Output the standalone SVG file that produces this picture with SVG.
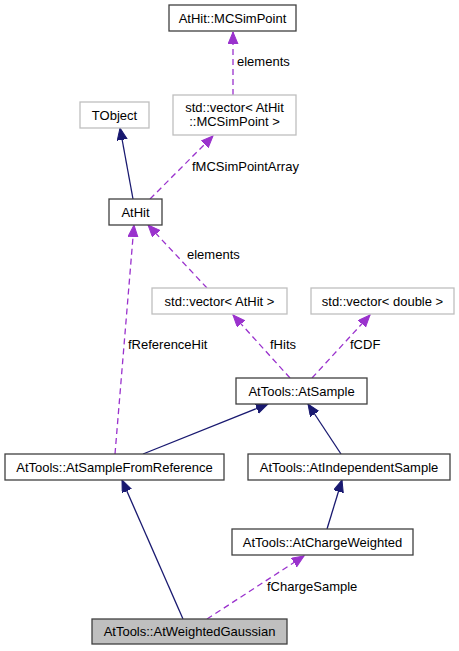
<svg xmlns="http://www.w3.org/2000/svg" width="459" height="651" viewBox="0 0 459 651">
<defs>
<style>
text{font-family:"Liberation Sans",Arial,Helvetica,sans-serif;font-size:13px;fill:#000}
.n{text-anchor:middle}
.box{fill:#fff;stroke:#404040;stroke-width:1.3}
.ext{fill:#fff;stroke:#bfbfbf;stroke-width:1.3}
.cur{fill:#bfbfbf;stroke:#404040;stroke-width:1.3}
.inh{fill:none;stroke:#191970;stroke-width:1.3}
.use{fill:none;stroke:#9a32cd;stroke-width:1.3;stroke-dasharray:6,4}
</style>
<marker id="ah" markerUnits="userSpaceOnUse" markerWidth="14" markerHeight="12" refX="12" refY="5" orient="auto">
<path d="M0,0 L12,5 L0,10 z" fill="#191970" stroke="#191970"/>
</marker>
<marker id="ap" markerUnits="userSpaceOnUse" markerWidth="14" markerHeight="12" refX="12" refY="5" orient="auto">
<path d="M0,0 L12,5 L0,10 z" fill="#9a32cd" stroke="#9a32cd"/>
</marker>
</defs>
<rect width="459" height="651" fill="#fff"/>
<g id="edges">
<path class="use" d="M233,95 L233,32" marker-end="url(#ap)"/>
<path class="use" d="M150,199 L213,136" marker-end="url(#ap)"/>
<path class="inh" d="M133,199 L120,128" marker-end="url(#ah)"/>
<path class="use" d="M207,288 L148,225" marker-end="url(#ap)"/>
<path class="use" d="M115,454 L134,225" marker-end="url(#ap)"/>
<path class="use" d="M290,378 L233,315" marker-end="url(#ap)"/>
<path class="use" d="M312,378 L370,315" marker-end="url(#ap)"/>
<path class="inh" d="M143,454 L268,404" marker-end="url(#ah)"/>
<path class="inh" d="M341,454 L308,404" marker-end="url(#ah)"/>
<path class="inh" d="M327,529 L342,480" marker-end="url(#ah)"/>
<path class="inh" d="M183,619 L122,480" marker-end="url(#ah)"/>
<path class="use" d="M207,619 L304,556" marker-end="url(#ap)"/>
<text x="237" y="66">elements</text>
<text x="192" y="171">fMCSimPointArray</text>
<text x="187" y="259">elements</text>
<text x="128" y="349">fReferenceHit</text>
<text x="270" y="349">fHits</text>
<text x="350" y="349">fCDF</text>
<text x="267" y="591">fChargeSample</text>
</g>
<g id="MCSimPoint"><rect class="box" x="169" y="5" width="127" height="26"/><text class="n" x="232.5" y="22.5">AtHit::MCSimPoint</text></g>
<g id="vecMCSimPoint"><rect class="ext" x="173" y="95" width="123" height="40"/><text class="n" x="234.5" y="111.5">std::vector&lt; AtHit</text><text class="n" x="234.5" y="126">::MCSimPoint &gt;</text></g>
<g id="TObject"><rect class="ext" x="80" y="102" width="69" height="26"/><text class="n" x="114.5" y="119.5">TObject</text></g>
<g id="AtHit"><rect class="box" x="109" y="199" width="53" height="26"/><text class="n" x="135.5" y="216.5">AtHit</text></g>
<g id="vecAtHit"><rect class="ext" x="152" y="288" width="135" height="26"/><text class="n" x="219.5" y="305.5">std::vector&lt; AtHit &gt;</text></g>
<g id="vecDouble"><rect class="ext" x="311" y="288" width="143" height="26"/><text class="n" x="382.5" y="305.5">std::vector&lt; double &gt;</text></g>
<g id="AtSample"><rect class="box" x="236" y="378" width="131" height="26"/><text class="n" x="301.5" y="395.5">AtTools::AtSample</text></g>
<g id="AtSampleFromReference"><rect class="box" x="5" y="454" width="219" height="26"/><text class="n" x="114.5" y="471.5">AtTools::AtSampleFromReference</text></g>
<g id="AtIndependentSample"><rect class="box" x="248" y="454" width="202" height="26"/><text class="n" x="349" y="471.5">AtTools::AtIndependentSample</text></g>
<g id="AtChargeWeighted"><rect class="box" x="232" y="529" width="181" height="26"/><text class="n" x="322.5" y="546.5">AtTools::AtChargeWeighted</text></g>
<g id="AtWeightedGaussian"><rect class="cur" x="92" y="619" width="195" height="25"/><text class="n" x="189.5" y="636">AtTools::AtWeightedGaussian</text></g>
</svg>
